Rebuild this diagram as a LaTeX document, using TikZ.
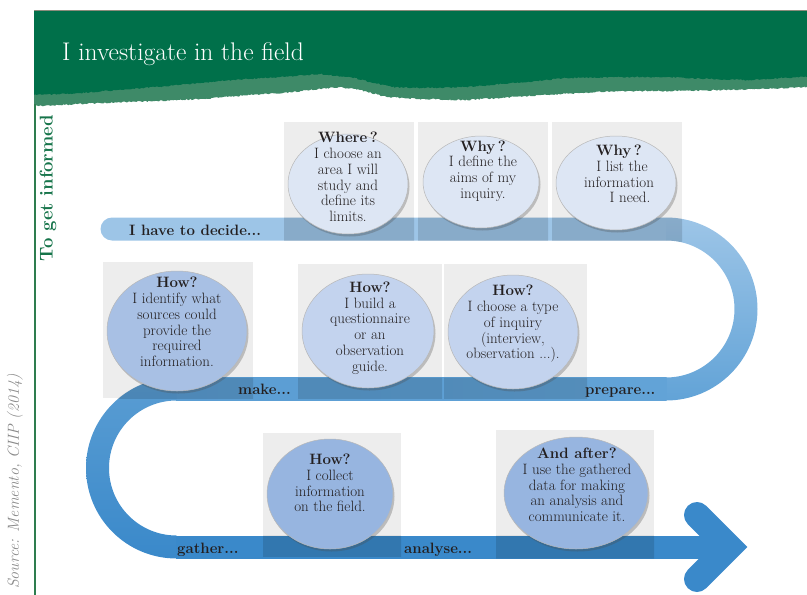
\documentclass[tikz,border=0pt]{standalone}
\usepackage{fontspec}
\usetikzlibrary{shadows,shapes.geometric,decorations.pathmorphing}
\definecolor{dgreen}{HTML}{00704A}
\definecolor{lgreen}{HTML}{3E8A68}
\definecolor{vgreen}{HTML}{2E7D4F}
\definecolor{tgreen}{HTML}{16744A}
\definecolor{topline}{HTML}{8C8C7C}
\definecolor{boxgrey}{HTML}{EDEDED}
\definecolor{bandA}{HTML}{9DC5E7}
\definecolor{bandB}{HTML}{62A3D7}
\definecolor{bandC}{HTML}{5A9DD3}
\definecolor{bandD}{HTML}{3A89CA}
\definecolor{cpale}{HTML}{DDE6F4}
\definecolor{cmidA}{HTML}{A8C0E4}
\definecolor{cmidB}{HTML}{C3D3EE}
\definecolor{cdeep}{HTML}{97B5E0}
\definecolor{txt}{HTML}{231F20}
\definecolor{srcgrey}{HTML}{8A8A8A}
\newcommand\snakeband{%
  (666,-217.5) -- (112,-217.5) arc (90:270:11.5) -- (666,-240.5) -- cycle
  (666,-217.5) arc (90:-90:91.5) -- (666,-377.5) arc (-90:90:68.5) -- cycle
  (176,-377.5) rectangle (666,-400.5)
  (176,-377.5) arc (90:270:90.5) -- (176,-535.5) arc (270:90:67.5) -- cycle
  (176,-535.5) rectangle (712,-558.5)}
\tikzset{
  greybox/.style={fill=boxgrey},
  bubble/.style={ellipse, inner sep=0pt, draw=black!28, line width=0.5pt,
    drop shadow={shadow xshift=1.5pt, shadow yshift=-2.5pt, opacity=0.3, fill=black!70}},
  btext/.style={align=center, text=txt, inner sep=0pt, font=\fontsize{15}{15.8}\selectfont},
  blabel/.style={anchor=base west, text=txt, inner sep=0pt, font=\bfseries\fontsize{15}{18}\selectfont},
  torn/.style={decoration={random steps, segment length=1.6pt, amplitude=0.7pt}},
}
\begin{document}
\begin{tikzpicture}[x=1pt,y=1pt]
\useasboundingbox (0,0) rectangle (807,-595);
% header
\fill[lgreen] (34,-10) -- (807,-10) -- (807,-87)
  decorate[torn]{ -- (760,-89) -- (722,-90) -- (670,-91) -- (619,-91) -- (580,-93) -- (541,-95) -- (500,-98) -- (464,-100) -- (420,-99) -- (387,-97) -- (360,-90) -- (340,-87) -- (310,-90) -- (283,-93) -- (250,-95) -- (200,-99) -- (155,-101) -- (100,-103) -- (60,-105) -- (34,-106)} -- cycle;
\fill[dgreen] (34,-10) -- (807,-10) -- (807,-77)
  decorate[torn]{ -- (780,-78) -- (747,-80) -- (710,-79) -- (670,-77) -- (620,-77) -- (567,-78) -- (515,-83) -- (464,-87) -- (430,-88) -- (392,-87) -- (350,-77) -- (320,-74) -- (280,-77) -- (232,-80) -- (200,-83) -- (155,-87) -- (80,-93) -- (34,-95)} -- cycle;
\draw[topline, line width=1pt] (34,-10) -- (807,-10);
\node[anchor=base west, text=white, inner sep=0pt, font=\fontsize{25.5}{30}\selectfont] (title) at (62,-60) {I investigate in the field};
\draw[vgreen, line width=1.2pt] (35,-104) -- (35,-595);
\node[rotate=90, anchor=east, text=tgreen, inner sep=0pt, font=\bfseries\fontsize{18.5}{22}\selectfont] (side) at (48,-115) {To get informed};
\node[rotate=90, anchor=east, text=srcgrey, inner sep=0pt, font=\itshape\fontsize{16}{20}\selectfont] (source) at (15,-374) {Source: Memento, CIIP (2014)};
% grey boxes
\fill[greybox] (284,-122) rectangle (414,-241);
\fill[greybox] (418,-122) rectangle (548,-241);
\fill[greybox] (552,-122) rectangle (682,-241);
\fill[greybox] (103,-262) rectangle (253,-398);
\fill[greybox] (298,-264) rectangle (442,-398);
\fill[greybox] (444,-264) rectangle (587,-398);
\fill[greybox] (263,-433) rectangle (401,-556);
\fill[greybox] (496,-430) rectangle (654,-558);
% band
\fill[bandA] (666,-217.5) -- (112,-217.5) arc (90:270:11.5) -- (666,-240.5) -- cycle;
\shade[top color=bandA, bottom color=bandB] (666,-217.5) arc (90:-90:91.5) -- (666,-377.5) arc (-90:90:68.5) -- cycle;
\shade[left color=bandC, right color=bandB] (176,-377.5) rectangle (666.5,-400.5);
\shade[top color=bandC, bottom color=bandD] (176.5,-377.5) arc (90:270:90.5) -- (176.5,-535.5) arc (270:90:67.5) -- cycle;
\fill[bandD] (176,-535.5) rectangle (712,-558.5);
\draw[bandD, line width=26pt, line cap=round, line join=miter] (697,-515) -- (729,-547) -- (697,-579);
% darkened band inside boxes
\foreach \bx/\by/\ex/\ey in {284/-122/414/-241, 418/-122/548/-241, 552/-122/682/-241, 103/-262/253/-398, 298/-264/442/-398, 444/-264/587/-398, 263/-433/401/-556, 496/-430/654/-558}{
  \begin{scope}
    \clip (\bx,\by) rectangle (\ex,\ey);
    \fill[black, opacity=0.13] \snakeband;
  \end{scope}
}
% bubbles
\node[bubble, fill=cpale, minimum width=120pt, minimum height=100pt] (c1) at (348,-184) {};
\node[bubble, fill=cpale, minimum width=116pt, minimum height=92pt] (c2) at (481,-182) {};
\node[bubble, fill=cpale, minimum width=120pt, minimum height=94pt] (c3) at (616,-183) {};
\node[bubble, fill=cmidA, minimum width=140pt, minimum height=120pt] (c4) at (177,-331) {};
\node[bubble, fill=cmidB, minimum width=132pt, minimum height=114pt] (c5) at (368,-331) {};
\node[bubble, fill=cmidB, minimum width=130pt, minimum height=114pt] (c6) at (513,-332) {};
\node[bubble, fill=cdeep, minimum width=126pt, minimum height=110pt] (c7) at (330,-494) {};
\node[bubble, fill=cdeep, minimum width=144pt, minimum height=112pt] (c8) at (576,-493) {};
% bubble texts
\node[btext] (t1) at (348,-177) {\textbf{Where\,?}\\I choose an\\area I will\\study and\\define its\\limits.};
\node[btext] (t2) at (483,-171) {\textbf{Why\,?}\\I define the\\aims of my\\inquiry.};
\node[btext] (t3) at (619,-174) {\textbf{Why\,?}\\\hspace*{6pt}I list the\\information\\\hspace*{22pt}I need.};
\node[btext] (t4) at (177,-322) {\textbf{How?}\\I identify what\\sources could\\provide the\\required\\information.};
\node[btext] (t5) at (370,-328) {\textbf{How?}\\I build a\\questionnaire\\or an\\observation\\guide.};
\node[btext] (t6) at (513,-324) {\textbf{How?}\\I choose a type\\of inquiry\\(interview,\\observation ...).};
\node[btext] (t7) at (330,-483) {\textbf{How?}\\I collect\\information\\on the field.};
\node[btext] (t8) at (577,-485) {\textbf{And after?}\\I use the gathered\\data for making\\an analysis and\\communicate it.};
% band labels
\node[blabel] (l1) at (129,-235) {I have to decide...};
\node[blabel] (l2) at (238,-394) {make...};
\node[blabel] (l3) at (585,-394) {prepare...};
\node[blabel] (l4) at (177,-553) {gather...};
\node[blabel] (l5) at (404,-553) {analyse...};
\end{tikzpicture}
\end{document}
